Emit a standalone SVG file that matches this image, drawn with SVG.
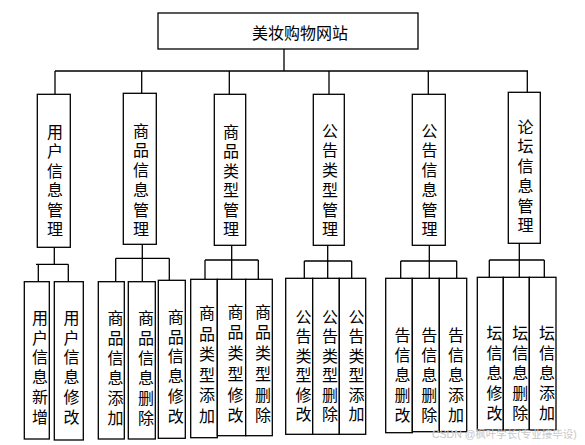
<svg xmlns="http://www.w3.org/2000/svg" width="585" height="445" viewBox="0 0 585 445">
<style>
.b{fill:#fff;stroke:#000;stroke-width:1.3}
.l{fill:none;stroke:#000;stroke-width:1.3}
text{font-family:"Liberation Sans","Noto Sans CJK SC",sans-serif;fill:#000;text-anchor:middle;dominant-baseline:central}
.t1{font-size:16px}
.t2{font-size:16px}
.wm{font-size:10.5px;fill:#c8c8c8;text-anchor:start;dominant-baseline:auto}
</style>
<rect width="585" height="445" fill="#fff"/>
<g id="connectors">
<path class="l" d="M284,49V71M55,71H528M55,71V94M141.7,71V93M229.3,71V94M329,71V94M428.3,71V94M527.3,71V92"/>
<path class="l" d="M54.3,247V264.3M36,264.3H68.3M38.3,264.3V281.7M68.3,264.3V281.7"/>
<path class="l" d="M142.3,244V281.7M115.7,258.3H169.3M115.7,258.3V281.7M169.3,258.3V280.3"/>
<path class="l" d="M231.7,245V279.3M205,260H258.3M205,260V279.3M258.3,260V279.3"/>
<path class="l" d="M327.7,245V278.3M304.3,261H351.7M304.3,261V278.3M351.7,261V278.3"/>
<path class="l" d="M429.3,245V278.3M400.7,261H456.7M400.7,261V278.3M456.7,261V278.3"/>
<path class="l" d="M519.3,243V277.3M489.3,260H544.3M489.3,260V277.3M544.3,260V277.3"/>
</g>
<g id="root"><rect class="b" x="158" y="13" width="260" height="36"/><text x="300" y="33" font-size="16">美妆购物网站</text></g>
<g id="n1"><rect class="b" x="37.3" y="94.3" width="33" height="153"/><text class="t1"><tspan x="55" y="131.7">用</tspan><tspan x="55" y="151.2">户</tspan><tspan x="55" y="170.7">信</tspan><tspan x="55" y="190.2">息</tspan><tspan x="55" y="209.7">管</tspan><tspan x="55" y="229.2">理</tspan></text></g>
<g id="n2"><rect class="b" x="123.3" y="93.3" width="33" height="151"/><text class="t1"><tspan x="141" y="130.7">商</tspan><tspan x="141" y="150.4">品</tspan><tspan x="141" y="170.1">信</tspan><tspan x="141" y="189.8">息</tspan><tspan x="141" y="209.5">管</tspan><tspan x="141" y="229.2">理</tspan></text></g>
<g id="n3"><rect class="b" x="214.3" y="94.3" width="31.4" height="151"/><text class="t1"><tspan x="231" y="131.7">商</tspan><tspan x="231" y="151.2">品</tspan><tspan x="231" y="170.7">类</tspan><tspan x="231" y="190.2">型</tspan><tspan x="231" y="209.7">管</tspan><tspan x="231" y="229.2">理</tspan></text></g>
<g id="n4"><rect class="b" x="313.3" y="94.3" width="31" height="151"/><text class="t1"><tspan x="330" y="130.7">公</tspan><tspan x="330" y="150.4">告</tspan><tspan x="330" y="170.1">类</tspan><tspan x="330" y="189.8">型</tspan><tspan x="330" y="209.5">管</tspan><tspan x="330" y="229.2">理</tspan></text></g>
<g id="n5"><rect class="b" x="412.3" y="94.3" width="33" height="151"/><text class="t1"><tspan x="429.5" y="130.7">公</tspan><tspan x="429.5" y="150.4">告</tspan><tspan x="429.5" y="170.1">信</tspan><tspan x="429.5" y="189.8">息</tspan><tspan x="429.5" y="209.5">管</tspan><tspan x="429.5" y="229.2">理</tspan></text></g>
<g id="n6"><rect class="b" x="508.3" y="92.3" width="32" height="151"/><text class="t1"><tspan x="525.5" y="126.7">论</tspan><tspan x="525.5" y="146.4">坛</tspan><tspan x="525.5" y="166.1">信</tspan><tspan x="525.5" y="185.8">息</tspan><tspan x="525.5" y="205.5">管</tspan><tspan x="525.5" y="225.2">理</tspan></text></g>
<g id="a1"><rect class="b" x="24.3" y="281.7" width="25" height="157.3"/><text class="t2"><tspan x="40" y="317.7">用</tspan><tspan x="40" y="337.5">户</tspan><tspan x="40" y="357.3">信</tspan><tspan x="40" y="377.1">息</tspan><tspan x="40" y="396.9">新</tspan><tspan x="40" y="416.7">增</tspan></text></g>
<g id="a2"><rect class="b" x="54.3" y="281.7" width="29" height="158.3"/><text class="t2"><tspan x="71.5" y="317.7">用</tspan><tspan x="71.5" y="337.5">户</tspan><tspan x="71.5" y="357.3">信</tspan><tspan x="71.5" y="377.1">息</tspan><tspan x="71.5" y="396.9">修</tspan><tspan x="71.5" y="416.7">改</tspan></text></g>
<g id="b1"><rect class="b" x="98.3" y="281.7" width="26" height="157.3"/><text class="t2"><tspan x="115.5" y="318.3">商</tspan><tspan x="115.5" y="338.2">品</tspan><tspan x="115.5" y="358.1">信</tspan><tspan x="115.5" y="378">息</tspan><tspan x="115.5" y="397.9">添</tspan><tspan x="115.5" y="417.8">加</tspan></text></g>
<g id="b2"><rect class="b" x="128.3" y="281.7" width="27" height="157.3"/><text class="t2"><tspan x="146" y="318.3">商</tspan><tspan x="146" y="338.2">品</tspan><tspan x="146" y="358.1">信</tspan><tspan x="146" y="378">息</tspan><tspan x="146" y="397.9">删</tspan><tspan x="146" y="417.8">除</tspan></text></g>
<g id="b3"><rect class="b" x="158.3" y="280.3" width="27" height="158"/><text class="t2"><tspan x="175.7" y="316.7">商</tspan><tspan x="175.7" y="336.5">品</tspan><tspan x="175.7" y="356.3">信</tspan><tspan x="175.7" y="376.1">息</tspan><tspan x="175.7" y="395.9">修</tspan><tspan x="175.7" y="415.7">改</tspan></text></g>
<g id="c1"><rect class="b" x="190.7" y="279.3" width="26.6" height="158.4"/><text class="t2"><tspan x="207" y="313.3">商</tspan><tspan x="207" y="333.8">品</tspan><tspan x="207" y="354.3">类</tspan><tspan x="207" y="374.8">型</tspan><tspan x="207" y="395.3">添</tspan><tspan x="207" y="415.8">加</tspan></text></g>
<g id="c2"><rect class="b" x="217.3" y="279.3" width="28.4" height="156.4"/><text class="t2"><tspan x="235.5" y="311.7">商</tspan><tspan x="235.5" y="332.4">品</tspan><tspan x="235.5" y="353.1">类</tspan><tspan x="235.5" y="373.8">型</tspan><tspan x="235.5" y="394.5">修</tspan><tspan x="235.5" y="415.2">改</tspan></text></g>
<g id="c3"><rect class="b" x="245.7" y="279.3" width="26.6" height="156.4"/><text class="t2"><tspan x="263" y="311.7">商</tspan><tspan x="263" y="332.4">品</tspan><tspan x="263" y="353.1">类</tspan><tspan x="263" y="373.8">型</tspan><tspan x="263" y="394.5">删</tspan><tspan x="263" y="415.2">除</tspan></text></g>
<g id="d1"><rect class="b" x="285.7" y="278.3" width="27" height="156"/><text class="t2"><tspan x="303.5" y="316.7">公</tspan><tspan x="303.5" y="336.2">告</tspan><tspan x="303.5" y="355.7">类</tspan><tspan x="303.5" y="375.2">型</tspan><tspan x="303.5" y="394.7">修</tspan><tspan x="303.5" y="414.2">改</tspan></text></g>
<g id="d2"><rect class="b" x="312.7" y="278.3" width="26.6" height="156"/><text class="t2"><tspan x="330" y="316.7">公</tspan><tspan x="330" y="336.2">告</tspan><tspan x="330" y="355.7">类</tspan><tspan x="330" y="375.2">型</tspan><tspan x="330" y="394.7">删</tspan><tspan x="330" y="414.2">除</tspan></text></g>
<g id="d3"><rect class="b" x="339.3" y="278.3" width="26.4" height="156"/><text class="t2"><tspan x="356.5" y="316.7">公</tspan><tspan x="356.5" y="336.2">告</tspan><tspan x="356.5" y="355.7">类</tspan><tspan x="356.5" y="375.2">型</tspan><tspan x="356.5" y="394.7">添</tspan><tspan x="356.5" y="414.2">加</tspan></text></g>
<g id="e1"><rect class="b" x="385.7" y="278.3" width="26.6" height="154.4"/><text class="t2"><tspan x="402.5" y="335">告</tspan><tspan x="402.5" y="355">信</tspan><tspan x="402.5" y="375">息</tspan><tspan x="402.5" y="395">删</tspan><tspan x="402.5" y="415">改</tspan></text></g>
<g id="e2"><rect class="b" x="412.3" y="278.3" width="27" height="153.4"/><text class="t2"><tspan x="429.3" y="335">告</tspan><tspan x="429.3" y="355">信</tspan><tspan x="429.3" y="375">息</tspan><tspan x="429.3" y="395">删</tspan><tspan x="429.3" y="415">除</tspan></text></g>
<g id="e3"><rect class="b" x="439.3" y="278.3" width="27.4" height="153.4"/><text class="t2"><tspan x="456" y="335">告</tspan><tspan x="456" y="355">信</tspan><tspan x="456" y="375">息</tspan><tspan x="456" y="395">添</tspan><tspan x="456" y="415">加</tspan></text></g>
<g id="f1"><rect class="b" x="477.3" y="277.3" width="26" height="152.7"/><text class="t2"><tspan x="494.5" y="333.3">坛</tspan><tspan x="494.5" y="353.3">信</tspan><tspan x="494.5" y="373.3">息</tspan><tspan x="494.5" y="393.3">修</tspan><tspan x="494.5" y="413.3">改</tspan></text></g>
<g id="f2"><rect class="b" x="503.3" y="277.3" width="26" height="152.7"/><text class="t2"><tspan x="520.3" y="333.3">坛</tspan><tspan x="520.3" y="353.3">信</tspan><tspan x="520.3" y="373.3">息</tspan><tspan x="520.3" y="393.3">删</tspan><tspan x="520.3" y="413.3">除</tspan></text></g>
<g id="f3"><rect class="b" x="529.3" y="277.3" width="26.7" height="152.7"/><text class="t2"><tspan x="547" y="333.3">坛</tspan><tspan x="547" y="353.3">信</tspan><tspan x="547" y="373.3">息</tspan><tspan x="547" y="393.3">添</tspan><tspan x="547" y="413.3">加</tspan></text></g>
<text class="wm" x="432" y="438">CSDN @枫叶学长(专业接毕设)</text>
</svg>
